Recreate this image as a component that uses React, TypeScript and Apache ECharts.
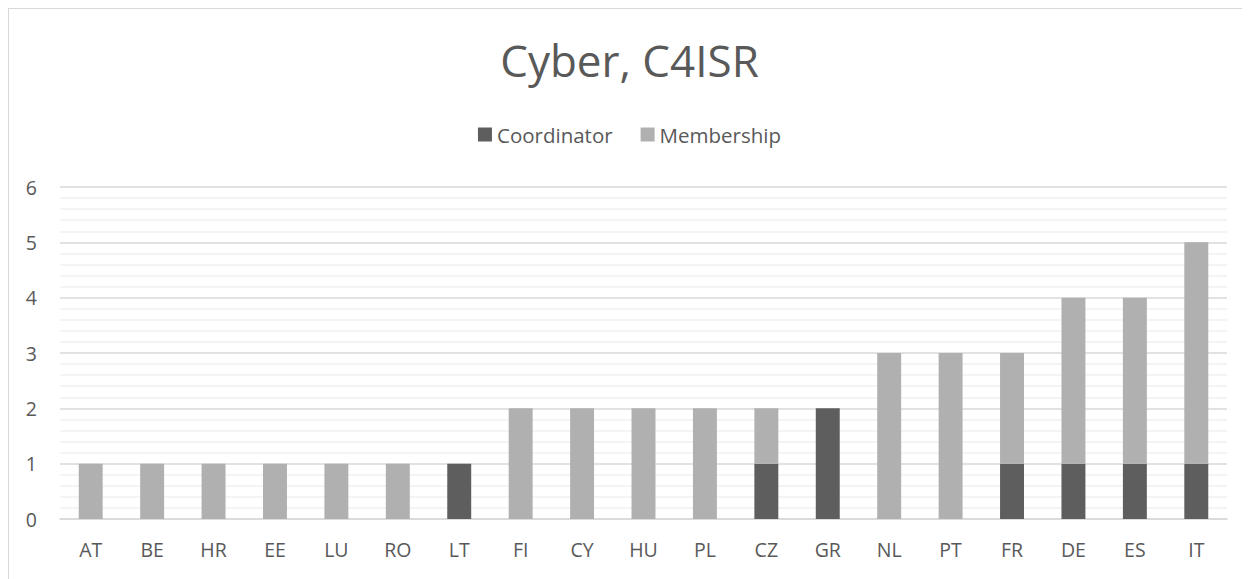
import React, { useEffect, useRef } from "react";
import * as echarts from "echarts";

const categories = ["AT", "BE", "HR", "EE", "LU", "RO", "LT", "FI", "CY", "HU", "PL", "CZ", "GR", "NL", "PT", "FR", "DE", "ES", "IT"];
const coordinator = [0, 0, 0, 0, 0, 0, 1, 0, 0, 0, 0, 1, 2, 0, 0, 1, 1, 1, 1];
const membership = [1, 1, 1, 1, 1, 1, 0, 2, 2, 2, 2, 1, 0, 3, 3, 2, 3, 3, 4];
const yTicks = [0, 1, 2, 3, 4, 5, 6];

const FONT = "'Open Sans', sans-serif";
const TXT = "#595959";

export default function App() {
  const ref = useRef<HTMLDivElement>(null);
  useEffect(() => {
    const chart = echarts.init(ref.current!, null, { renderer: "svg" });
    chart.setOption({
      animation: false,
      title: {
        text: "Cyber, C4ISR",
        left: "center",
        top: 24,
        textStyle: { fontFamily: FONT, fontSize: 44, fontWeight: "normal", color: TXT },
      },
      legend: {
        top: 110,
        left: "center",
        itemWidth: 14,
        itemHeight: 14,
        itemGap: 28,
        icon: "rect",
        textStyle: { fontFamily: FONT, fontSize: 20.5, color: TXT },
        data: ["Coordinator", "Membership"],
      },
      grid: { left: 51, right: 23, top: 178, bottom: 60, containLabel: false },
      xAxis: {
        type: "category",
        data: categories,
        axisLine: { lineStyle: { color: "#d9d9d9", width: 1.5 } },
        axisTick: { show: false },
        axisLabel: { color: TXT, fontFamily: FONT, fontSize: 19.5, margin: 20 },
      },
      yAxis: {
        type: "value",
        min: yTicks[0],
        max: yTicks[yTicks.length - 1],
        interval: 1,
        axisLine: { show: false },
        axisTick: { show: false },
        axisLabel: { color: TXT, fontFamily: FONT, fontSize: 19.5, margin: 23 },
        splitLine: { lineStyle: { color: "#d9d9d9", width: 1.5 } },
        minorTick: { show: false, splitNumber: 5 },
        minorSplitLine: { show: true, lineStyle: { color: "#f0f0f0", width: 1.5 } },
      },
      series: [
        {
          name: "Coordinator",
          type: "bar",
          stack: "total",
          data: coordinator,
          barCategoryGap: "61%",
          itemStyle: { color: "#5e5e5e" },
        },
        {
          name: "Membership",
          type: "bar",
          stack: "total",
          data: membership,
          barCategoryGap: "61%",
          itemStyle: { color: "#b0b0b0" },
        },
      ],
    });
    return () => chart.dispose();
  }, []);
  return (
    <div
      ref={ref}
      style={{
        width: 1241,
        height: 570,
        borderTop: "1px solid #d9d9d9",
        borderLeft: "1px solid #d9d9d9",
        background: "#fff",
      }}
    />
  );
}
